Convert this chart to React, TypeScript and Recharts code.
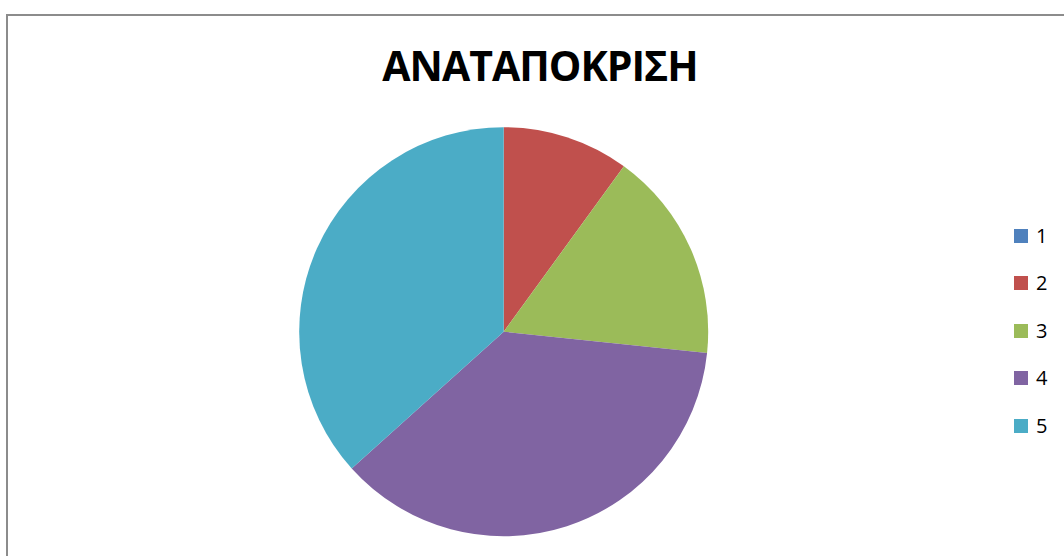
import React from 'react';
import { PieChart, Pie, Cell, Legend } from 'recharts';

const categories = ['1', '2', '3', '4', '5'];
const values = [0, 3, 5, 11, 11];
const colors = ['#4F81BD', '#C0504D', '#9BBB59', '#8064A2', '#4BACC6'];
const title = 'ΑΝΑΤΑΠΟΚΡΙΣΗ';

const data = categories.map((name, i) => ({ name, value: values[i] }));

function LegendList() {
  return (
    <div style={{ display: 'flex', flexDirection: 'column' }}>
      {categories.map((name, i) => (
        <div key={name} style={{ display: 'flex', alignItems: 'center', height: 47.5 }}>
          <span style={{ width: 14, height: 14, background: colors[i], marginRight: 8 }} />
          <span style={{ fontSize: 20, color: '#000', lineHeight: '20px' }}>{name}</span>
        </div>
      ))}
    </div>
  );
}

export default function App() {
  return (
    <div
      style={{
        position: 'fixed',
        left: 0,
        top: 0,
        width: 1064,
        height: 556,
        overflow: 'hidden',
        background: '#fff',
        fontFamily: '"Open Sans", "Noto Sans", sans-serif',
      }}
    >
      <div
        style={{
          position: 'absolute',
          left: 6,
          top: 14,
          width: 1200,
          height: 700,
          borderLeft: '2px solid #8c8c8c',
          borderTop: '2px solid #8c8c8c',
        }}
      />
      <div
        style={{
          position: 'absolute',
          left: 0,
          top: 37,
          width: 1080,
          textAlign: 'center',
          fontSize: 41,
          letterSpacing: -1,
          fontWeight: 700,
          color: '#000',
          lineHeight: '56px',
        }}
      >
        {title}
      </div>
      <div style={{ position: 'absolute', left: 0, top: 0 }}>
        <PieChart width={1064} height={556} margin={{ top: 0, right: 0, bottom: 0, left: 0 }}>
          <Pie
            data={data}
            dataKey="value"
            nameKey="name"
            cx={503.7}
            cy={331.7}
            outerRadius={204.5}
            startAngle={90}
            endAngle={-270}
            stroke="none"
            isAnimationActive={false}
          >
            {data.map((d, i) => (
              <Cell key={d.name} fill={colors[i]} />
            ))}
          </Pie>
          <Legend
            layout="vertical"
            verticalAlign="top"
            align="right"
            wrapperStyle={{ left: 1014, top: 212, width: 50 }}
            content={() => <LegendList />}
          />
        </PieChart>
      </div>
    </div>
  );
}
